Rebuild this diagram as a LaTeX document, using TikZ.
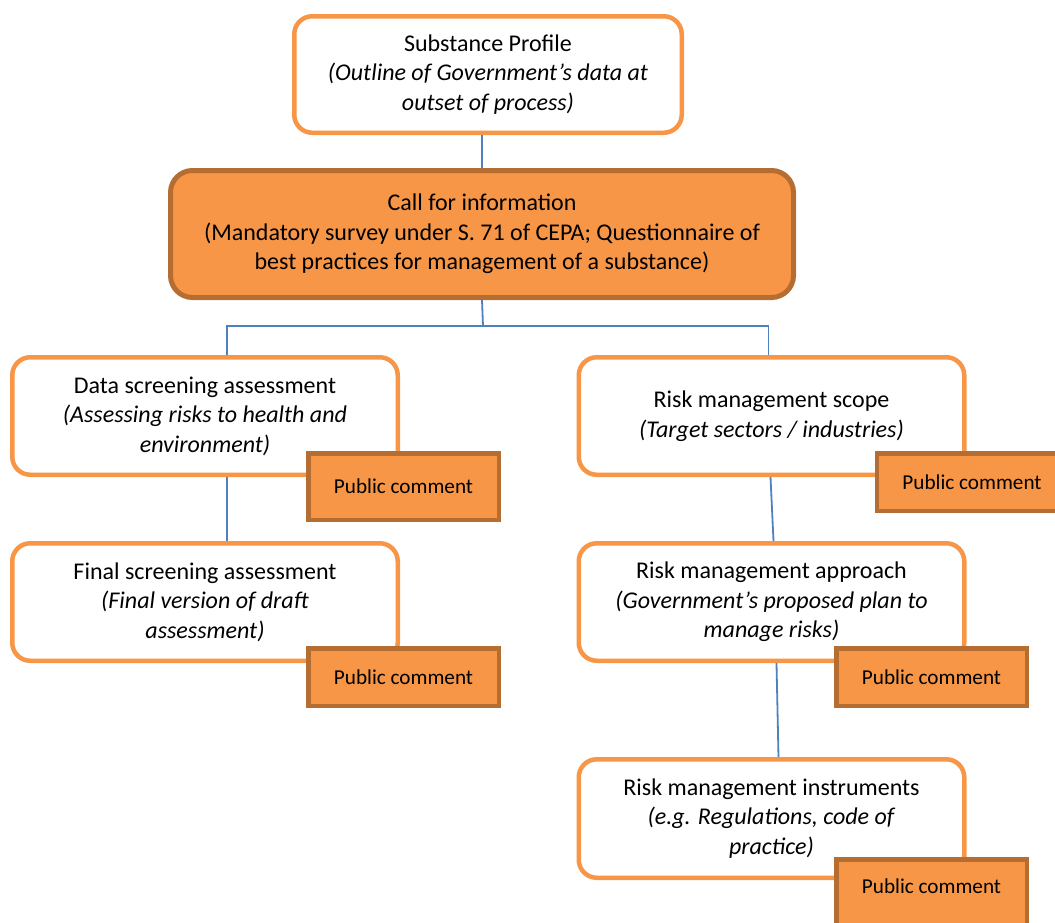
\documentclass[tikz,border=0pt]{standalone}
\usepackage{fontspec}
\setmainfont{Carlito}
\usepackage{tikz}

\begin{document}
\begin{tikzpicture}[x=1pt, y=-1pt, font=\fontsize{24}{29.5}\selectfont,
  stagebox/.style={draw=stageorange, line width=4.5pt, fill=white, rounded corners=18pt,
    align=center, minimum width=385.5pt, minimum height=117.5pt, inner sep=0pt},
  callbox/.style={draw=edgebrown, line width=5pt, fill=stageorange, rounded corners=22pt,
    align=center, minimum width=623pt, minimum height=127pt, inner sep=0pt},
  commentbox/.style={draw=edgebrown, line width=4.5pt, fill=stageorange,
    font=\fontsize{21.2}{26}\selectfont,
    minimum width=190.5pt, minimum height=57.5pt, inner sep=0pt},
  link/.style={draw=linkblue, line width=1.8pt}]
  \definecolor{stageorange}{HTML}{F79646}
  \definecolor{edgebrown}{HTML}{B66D31}
  \definecolor{linkblue}{HTML}{4F81BD}

  \useasboundingbox (0,0) rectangle (1055,922);

  % top of the process
  \node[stagebox, minimum width=387.5pt, minimum height=116.5pt] (profile) at (488,74.5)
    {Substance Profile\\ \textit{(Outline of Government’s data at}\\ \textit{outset of process)}};
  \node[callbox] (call) at (482,234)
    {Call for information\\ (Mandatory survey under S. 71 of CEPA; Questionnaire of\\ best practices for management of a substance)};

  % assessment branch
  \node[stagebox] (data) at (205,416)
    {Data screening assessment\\ \textit{(Assessing risks to health and}\\ \textit{environment)}};
  \node[commentbox, minimum height=66.5pt] (dataPC) at (403.5,486.5) {Public comment};
  \node[stagebox] (final) at (205,602)
    {Final screening assessment\\ \textit{(Final version of draft}\\ \textit{assessment)}};
  \node[commentbox] (finalPC) at (403.5,677) {Public comment};

  % risk management branch
  \node[stagebox] (scope) at (771.5,416)
    {Risk management scope\\ \textit{(Target sectors / industries)}};
  \node[commentbox] (scopePC) at (972,482) {Public comment};
  \node[stagebox] (approach) at (771.5,602)
    {Risk management approach\\ \textit{(Government’s proposed plan to}\\ \textit{manage risks)}};
  \node[commentbox] (approachPC) at (931.5,677) {Public comment};
  \node[stagebox, minimum height=118.5pt] (instruments) at (771.5,818.5)
    {Risk management instruments\\ \textit{(e.g. Regulations, code of}\\ \textit{practice)}};
  \node[commentbox, anchor=north, minimum height=0pt, text height=34pt, text depth=42pt]
    (instrumentsPC) at (931.5,857) {Public comment};

  % connectors
  \coordinate (split) at (483,326);
  \draw[link] (profile.south -| call.north) -- (call.north);
  \draw[link] (call.south) -- (split);
  \draw[link] (split) -| ([xshift=22pt]data.north);
  \draw[link] (split) -| ([xshift=-3pt]scope.north);
  \draw[link] ([xshift=22pt]data.south) -- ([xshift=22pt]final.north);
  \draw[link] ([xshift=-1pt]scope.south) -- ([xshift=2pt]approach.north);
  \draw[link] ([xshift=5pt]approach.south) -- ([xshift=7pt]instruments.north);
\end{tikzpicture}
\end{document}
